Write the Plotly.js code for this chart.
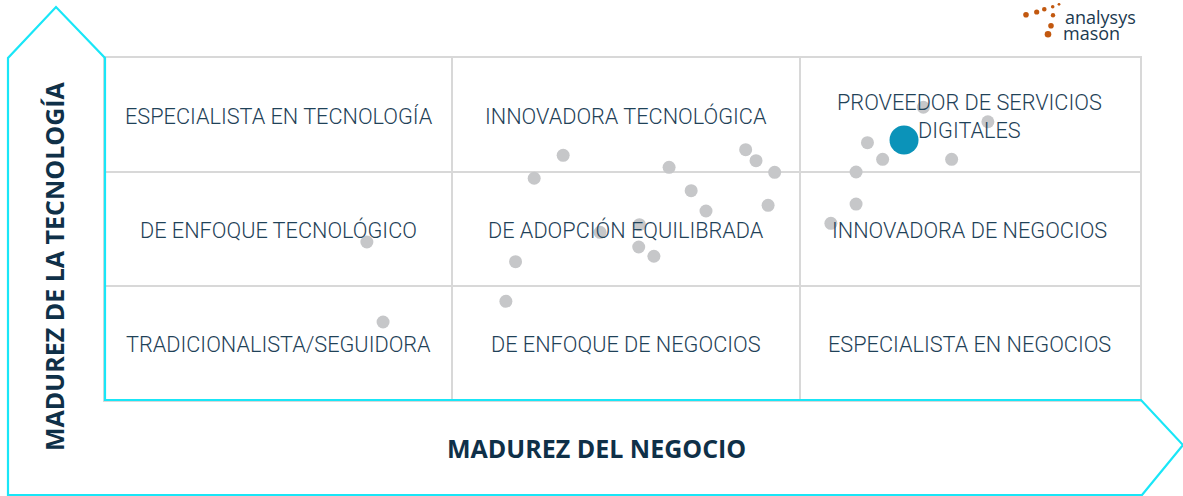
<!DOCTYPE html>
<html>
<head>
<meta charset="utf-8">
<script src="https://cdn.plot.ly/plotly-3.0.1.min.js"></script>
<style>
  html, body { margin: 0; padding: 0; background: #fff; }
  #chart { width: 1183px; height: 496px; }
</style>
</head>
<body>
<div id="chart"></div>
<script>
// empresas evaluadas (madurez del negocio, madurez de la tecnología), escala 0-3
const empresasX = [1.328, 1.244, 1.857, 1.887, 1.941, 1.635, 1.699, 1.742, 1.922, 1.435, 1.549, 1.547, 1.591, 1.190, 1.162, 0.759, 0.806, 2.372, 2.559, 2.210, 2.254, 2.454, 2.177, 2.177, 2.104];
const empresasY = [2.146, 1.945, 2.196, 2.099, 1.997, 2.041, 1.836, 1.658, 1.708, 1.471, 1.538, 1.342, 1.261, 1.213, 0.866, 1.386, 0.684, 2.568, 2.441, 2.257, 2.111, 2.111, 2.000, 1.719, 1.550];
const destacadaX = [2.316];
const destacadaY = [2.281];

// limites de los cuadrantes
const bordesX = [0, 1.006, 2.014, 3];
const bordesY = [0, 1, 2, 3];

// cuadrantes: fila 0 = abajo, columna 0 = izquierda
const cuadrantes = [
  ["TRADICIONALISTA/SEGUIDORA", "DE ENFOQUE DE NEGOCIOS", "ESPECIALISTA EN NEGOCIOS"],
  ["DE ENFOQUE TECNOLÓGICO", "DE ADOPCIÓN EQUILIBRADA", "INNOVADORA DE NEGOCIOS"],
  ["ESPECIALISTA EN TECNOLOGÍA", "INNOVADORA TECNOLÓGICA", "PROVEEDOR DE SERVICIOS<br>DIGITALES"],
];

const tituloX = "MADUREZ DEL NEGOCIO";
const tituloY = "MADUREZ DE LA TECNOLOGÍA";

// area del grafico en pixeles
const L = 105, T = 58, PW = 1035, PH = 342;
const px = (x) => (x - L) / PW;
const py = (y) => (T + PH - y) / PH;

const navy = "#0f3048";
const texto = "#1f4258";
const cian = "#19e6f7";
const gris = "#d8d8d8";

const annotations = [];
cuadrantes.forEach((fila, r) => {
  fila.forEach((txt, c) => {
    annotations.push({
      x: (bordesX[c] + bordesX[c + 1]) / 2,
      y: (bordesY[r] + bordesY[r + 1]) / 2,
      yshift: -1, xref: "x", yref: "y",
      xanchor: "center", yanchor: "middle",
      text: txt, showarrow: false,
      font: { family: "Roboto, sans-serif", size: 21.7, weight: 300, color: texto },
    });
  });
});

annotations.push({
  x: px(596), y: py(448), xref: "paper", yref: "paper",
  xanchor: "center", yanchor: "middle",
  text: tituloX, showarrow: false,
  font: { family: "Open Sans, sans-serif", size: 25, weight: 700, color: navy },
});
annotations.push({
  x: px(54), y: py(266), xref: "paper", yref: "paper",
  xanchor: "center", yanchor: "middle",
  text: tituloY, showarrow: false, textangle: -90,
  font: { family: "Open Sans, sans-serif", size: 25, weight: 700, color: navy },
});

// logo
annotations.push({
  x: px(1100), y: py(17), xref: "paper", yref: "paper",
  xanchor: "center", yanchor: "middle",
  text: "analysys", showarrow: false,
  font: { family: "Open Sans, sans-serif", size: 18, color: "#1b3a50" },
});
annotations.push({
  x: px(1091), y: py(33), xref: "paper", yref: "paper",
  xanchor: "center", yanchor: "middle",
  text: "mason", showarrow: false,
  font: { family: "Open Sans, sans-serif", size: 18, color: "#1b3a50" },
});

const punto = (cx, cy, r) => ({
  type: "circle", xref: "paper", yref: "paper",
  x0: px(cx - r), x1: px(cx + r), y0: py(cy + r), y1: py(cy - r),
  fillcolor: "#c2580f", line: { width: 0 },
});

const p = (x, y) => `${px(x)},${py(y)}`;
const shapes = [
  {
    type: "path", xref: "paper", yref: "paper", layer: "above",
    path: `M ${p(8, 495)} L ${p(8, 58)} L ${p(56, 7)} L ${p(105, 58)} L ${p(105, 400)} L ${p(1141, 400)} L ${p(1183, 445)} L ${p(1142, 495)} Z`,
    line: { color: cian, width: 2.2 },
  },
  punto(1026, 14.7, 2.8),
  punto(1036.7, 12, 2.6),
  punto(1044.3, 9.3, 2.3),
  punto(1052.7, 6.7, 1.8),
  punto(1059, 4.3, 1.4),
  punto(1053, 15.3, 2.2),
  punto(1051, 25.7, 2.8),
  punto(1048, 34.3, 3.3),
];

const data = [
  {
    x: empresasX, y: empresasY, type: "scatter", mode: "markers",
    marker: { color: "#c6c7c9", size: 13, line: { width: 0 } },
    hoverinfo: "skip",
  },
  {
    x: destacadaX, y: destacadaY, type: "scatter", mode: "markers",
    marker: { color: "#0b93b9", size: 29, line: { width: 0 } },
    hoverinfo: "skip",
  },
];

const eje = (bordes) => ({
  range: [0, 3], tickvals: bordes.slice(1, -1), showticklabels: false, ticks: "",
  showgrid: true, gridcolor: gris, gridwidth: 2, zeroline: false,
  showline: true, mirror: true, linecolor: gris, linewidth: 2,
  fixedrange: true,
});

Plotly.newPlot("chart", data, {
  width: 1183, height: 496,
  margin: { l: L, r: 1183 - L - PW, t: T, b: 496 - T - PH },
  paper_bgcolor: "#fff", plot_bgcolor: "#fff",
  showlegend: false,
  xaxis: eje(bordesX), yaxis: eje(bordesY),
  annotations, shapes,
}, { displayModeBar: false, staticPlot: true });
</script>
</body>
</html>
